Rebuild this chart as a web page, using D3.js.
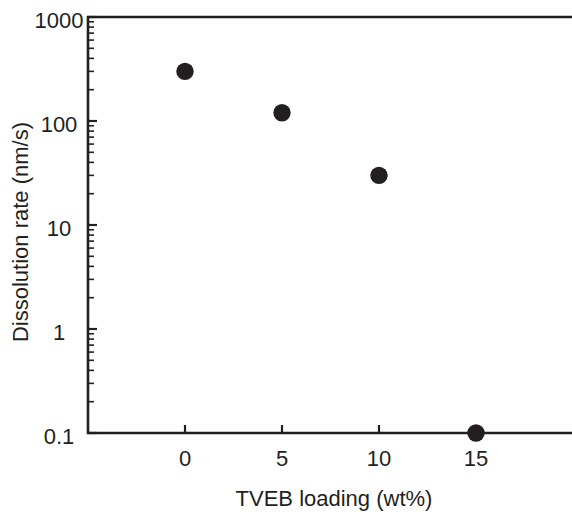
<!DOCTYPE html>
<html>
<head>
<meta charset="utf-8">
<script src="https://cdn.jsdelivr.net/npm/d3@7"></script>
<style>
  body { margin: 0; background: #fff; }
  text { font-family: "Liberation Sans", Arial, sans-serif; fill: #231f20; }
</style>
</head>
<body>
<svg width="572" height="515"></svg>
<script>
// data
var loading = [0, 5, 10, 15];
var rate = [300, 120, 30, 0.1];
var xTicks = [0, 5, 10, 15];
var yTicks = [0.1, 1, 10, 100, 1000];
var yTickLabels = ["0.1", "1", "10", "100", "1000"];

var ink = "#231f20";
var svg = d3.select("svg");
var g = svg.append("g");

// scales
var x = d3.scaleLinear().domain([-5, 20]).range([88, 573]);
var y = d3.scaleLog().domain([0.1, 1000]).range([433, 17]);

// minor ticks 2..9 of every decade
var minor = [];
[0.1, 1, 10, 100].forEach(function (d) {
  for (var k = 2; k <= 9; k++) minor.push(d * k);
});

g.selectAll(".minor").data(minor).enter().append("line")
  .attr("x1", 88).attr("x2", 94)
  .attr("y1", d => y(d)).attr("y2", d => y(d))
  .attr("stroke", ink).attr("stroke-width", 1.6);

g.selectAll(".major").data(yTicks).enter().append("line")
  .attr("x1", 88).attr("x2", 97)
  .attr("y1", d => y(d)).attr("y2", d => y(d))
  .attr("stroke", ink).attr("stroke-width", 2.2);

g.selectAll(".ylab").data(yTicks).enter().append("text")
  .attr("x", 59).attr("y", d => y(d) + 10.5)
  .attr("text-anchor", "middle")
  .attr("font-size", 22)
  .text((d, i) => yTickLabels[i]);

// x ticks point up into the plot
g.selectAll(".xtick").data(xTicks).enter().append("line")
  .attr("x1", d => x(d)).attr("x2", d => x(d))
  .attr("y1", 433).attr("y2", 425)
  .attr("stroke", ink).attr("stroke-width", 2.2);

g.selectAll(".xlab").data(xTicks).enter().append("text")
  .attr("x", d => x(d)).attr("y", 466)
  .attr("text-anchor", "middle")
  .attr("font-size", 22)
  .text(d => d);

// frame: left, bottom, top
g.append("path")
  .attr("d", "M572,17H88V433H572")
  .attr("fill", "none").attr("stroke", ink).attr("stroke-width", 2.6);

// points
g.selectAll(".pt").data(loading).enter().append("circle")
  .attr("cx", d => x(d))
  .attr("cy", (d, i) => y(rate[i]))
  .attr("r", 8.7)
  .attr("fill", ink);

// axis titles
g.append("text")
  .attr("x", 334).attr("y", 506)
  .attr("text-anchor", "middle")
  .attr("font-size", 22)
  .text("TVEB loading (wt%)");

g.append("text")
  .attr("transform", "translate(28,232) rotate(-90)")
  .attr("text-anchor", "middle")
  .attr("font-size", 22)
  .text("Dissolution rate (nm/s)");
</script>
</body>
</html>
